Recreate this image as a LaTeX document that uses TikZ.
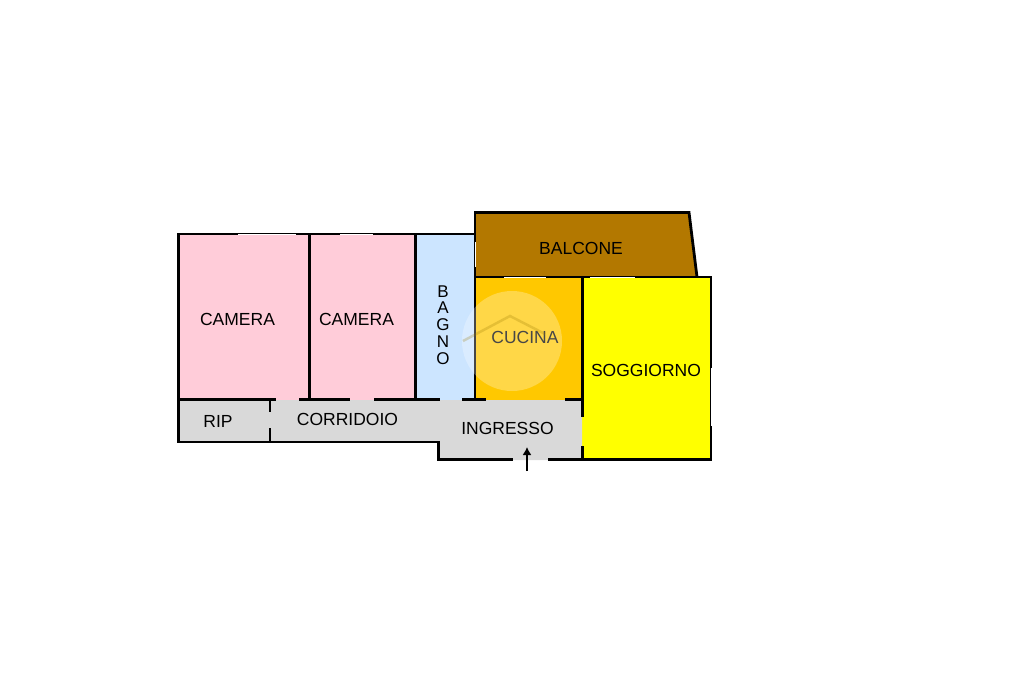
\documentclass[tikz,border=0pt]{standalone}
\usepackage{fontspec}
\usetikzlibrary{arrows.meta}
\setmainfont{Liberation Sans}
\definecolor{rosa}{HTML}{FFCCD9}
\definecolor{azzurro}{HTML}{CCE5FF}
\definecolor{arancio}{HTML}{FFC800}
\definecolor{marrone}{HTML}{B37800}
\definecolor{giallo}{HTML}{FFFF00}
\definecolor{grigio}{HTML}{D9D9D9}
\tikzset{
	wall/.style={draw=black,line width=2.8pt},
	window/.style={draw=white,line width=0.9pt},
	room/.style={font=\fontsize{17.5}{20}\selectfont,inner sep=0pt}
}

\begin{document}
\begin{tikzpicture}[x=1pt,y=-1pt]
	\useasboundingbox[fill=white] (0,0) rectangle (1024,682);

	% fills
	\fill[rosa] (178,234) rectangle (309,400);
	\fill[rosa] (309,234) rectangle (415,400);
	\fill[azzurro] (415,234) rectangle (475,400);
	\fill[arancio] (475,277) rectangle (582,400);
	\fill[marrone] (475,212) -- (689,212) -- (697,277) -- (475,277) -- cycle;
	\fill[giallo] (582,277) rectangle (711,460);
	\fill[grigio] (178,400) -- (582,400) -- (582,460) -- (438,460) -- (438,442) -- (178,442) -- cycle;

	% walls
	\draw[wall] (475,234) -- (178.5,234) -- (178.5,442) -- (438.5,442) -- (438.5,459.5) -- (513,459.5);
	\draw[wall] (548,459.5) -- (711,459.5) -- (711,277) -- (582,277);
	\draw[wall] (309.5,234) -- (309.5,399);
	\draw[wall] (415.5,234) -- (415.5,399);
	\draw[wall] (475,212.5) -- (689,212.5) -- (697,277);
	\draw[wall] (475,211) -- (475,399);
	\draw[wall] (475,277) -- (582,277);
	\draw[wall] (582.5,277) -- (582.5,417);
	\draw[wall] (582.5,446) -- (582.5,460);
	\draw[wall] (178,399.5) -- (276,399.5);
	\draw[wall] (299,399.5) -- (350,399.5);
	\draw[wall] (374,399.5) -- (440,399.5);
	\draw[wall] (462,399.5) -- (486,399.5);
	\draw[wall] (565,399.5) -- (582,399.5);
	\draw[wall] (270,399) -- (270,412);
	\draw[wall] (270,428) -- (270,442);

	% windows
	\draw[window] (238,234) -- (296,234);
	\draw[window] (340,234) -- (373,234);
	\draw[window] (475,242) -- (475,267);
	\draw[window] (504,277) -- (546,277);
	\draw[window] (590,277) -- (635,277);
	\draw[window] (711,368) -- (711,426);

	% labels
	\node[room] (camera1) at (237.5,319.5) {CAMERA};
	\node[room] (camera2) at (356.5,319.5) {CAMERA};
	\node[room,align=center,font=\fontsize{17}{16.8}\selectfont] (bagno) at (443,325) {B\\A\\G\\N\\O};
	\node[room] (balcone) at (581,248.5) {BALCONE};
	\node[room] (cucina) at (525,337) {CUCINA};
	\node[room] (soggiorno) at (646,370.5) {SOGGIORNO};
	\node[room] (rip) at (218,421.5) {RIP};
	\node[room] (corridoio) at (347.5,419.5) {CORRIDOIO};
	\node[room] (ingresso) at (507.5,428.5) {INGRESSO};

	% watermark
	\fill[white,opacity=0.28] (512,341) circle (50);
	\draw[arancio!60!black,line width=2.5pt,opacity=0.25] (463,341) -- (510,316) -- (545,334);

	% entrance arrow
	\coordinate (entrata) at (527,471);
	\coordinate (interno) at (527,447);
	\draw[-{Latex[length=8pt,width=9pt]},line width=1.5pt] (entrata) -- (interno);
\end{tikzpicture}
\end{document}
